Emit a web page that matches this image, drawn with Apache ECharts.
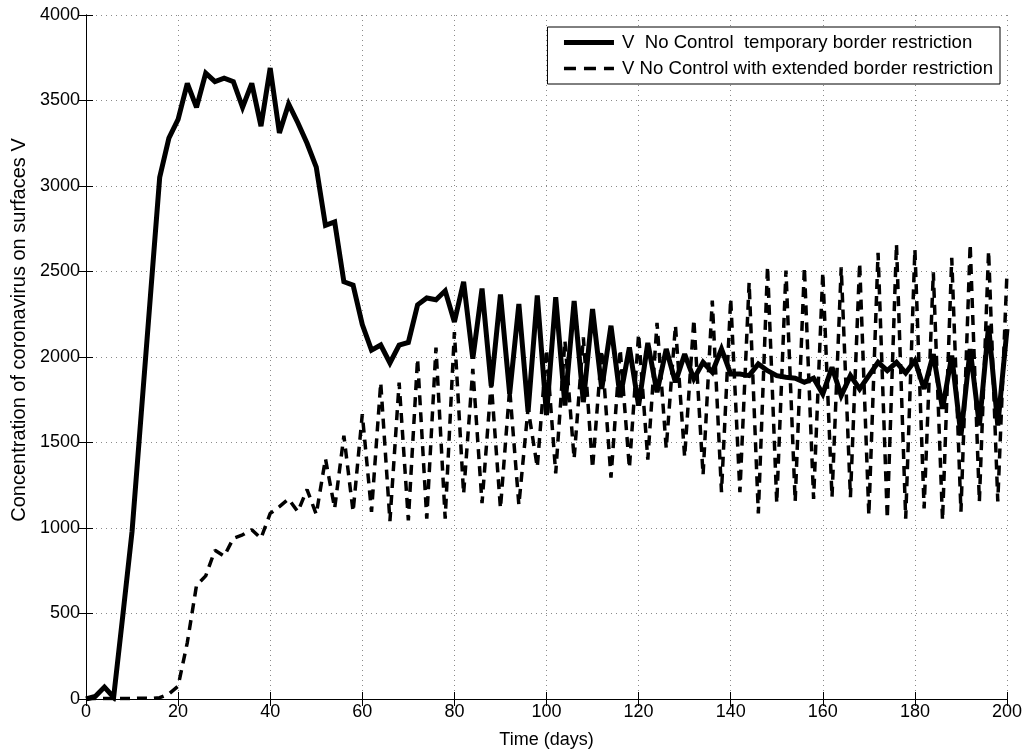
<!DOCTYPE html>
<html>
<head>
<meta charset="utf-8">
<script src="https://cdn.jsdelivr.net/npm/echarts@6/dist/echarts.min.js"></script>
<style>
html,body{margin:0;padding:0;background:#fff;}
#chart{width:1033px;height:754px;}
</style>
</head>
<body>
<div id="chart"></div>
<script>
const days = [0,2,4,6,8,10,12,14,16,18,20,22,24,26,28,30,32,34,36,38,40,42,44,46,48,50,52,54,56,58,60,62,64,66,68,70,72,74,76,78,80,82,84,86,88,90,92,94,96,98,100,102,104,106,108,110,112,114,116,118,120,122,124,126,128,130,132,134,136,138,140,142,144,146,148,150,152,154,156,158,160,162,164,166,168,170,172,174,176,178,180,182,184,186,188,190,192,194,196,198,200];

const tempBorder = [0,15,70,10,490,980,1670,2360,3050,3280,3390,3600,3460,3660,3610,3630,3610,3460,3600,3350,3690,3310,3480,3370,3250,3110,2770,2790,2440,2420,2190,2040,2070,1965,2070,2085,2305,2345,2335,2387,2205,2440,1990,2400,1830,2365,1785,2310,1680,2360,1660,2350,1716,2328,1736,2280,1813,2183,1765,2056,1716,2082,1794,2047,1852,2017,1872,1969,1911,2047,1901,1901,1891,1959,1920,1891,1882,1876,1852,1876,1784,1940,1774,1891,1813,1891,1969,1920,1969,1907,1979,1813,2017,1697,2008,1541,2047,1600,2183,1600,2163];

const extBorder = [0,3,3,3,3,3,5,3,8,30,75,330,665,720,870,835,940,960,990,940,1085,1125,1170,1095,1225,1080,1405,1115,1540,1095,1665,1095,1850,1040,1850,1045,1990,1055,2055,1055,2145,1200,1930,1145,1850,1115,1815,1135,1700,1355,2045,1320,2095,1405,2115,1350,2040,1295,2045,1350,2135,1400,2200,1465,2185,1415,2220,1310,2330,1210,2340,1210,2435,1085,2530,1145,2505,1155,2525,1170,2495,1180,2525,1180,2550,1075,2610,1055,2660,1055,2630,1115,2495,1045,2580,1095,2660,1155,2620,1155,2495];

const seriesNames = ['V  No Control  temporary border restriction', 'V No Control with extended border restriction'];
const xTitle = 'Time (days)';
const yTitle = 'Concentration of coronavirus on surfaces V';

const FONT = 'Liberation Sans, Arial, Helvetica, sans-serif';
const chart = echarts.init(document.getElementById('chart'), null, {renderer: 'canvas'});

function pairs(vals) { return days.map((d, i) => [d, vals[i]]); }

const tickStyle = {show: true, inside: true, length: 7, lineStyle: {color: '#000', width: 1}};
const splitStyle = {show: true, lineStyle: {color: '#8a8a8a', width: 1, type: [1, 4]}};
const plain = v => String(v);

chart.setOption({
  animation: false,
  backgroundColor: '#fff',
  textStyle: {fontFamily: FONT},
  grid: {left: 86, right: 26, top: 15, bottom: 53, show: false},
  legend: {
    orient: 'vertical',
    right: 33, top: 27,
    backgroundColor: '#fff',
    borderColor: '#000', borderWidth: 1,
    padding: [6, 7, 6, 14],
    itemGap: 7,
    itemWidth: 50, itemHeight: 18,
    itemStyle: {opacity: 0},
    textStyle: {fontFamily: FONT, fontSize: 18.6, color: '#000', padding: [0, 0, 0, 3]},
    data: [
      {name: seriesNames[0], lineStyle: {width: 5, color: '#000'}},
      {name: seriesNames[1], lineStyle: {width: 3.5, color: '#000', type: [12, 8]}}
    ]
  },
  xAxis: [{
    type: 'value', min: 0, max: 200, interval: 20,
    name: xTitle, nameLocation: 'middle', nameGap: 32,
    nameTextStyle: {fontFamily: FONT, fontSize: 18, color: '#000'},
    axisLine: {show: true, lineStyle: {color: '#000', width: 1}},
    axisTick: tickStyle,
    axisLabel: {fontFamily: FONT, fontSize: 18, color: '#000', margin: 4, formatter: plain},
    splitLine: splitStyle
  }, {
    type: 'value', min: 0, max: 200, interval: 20, position: 'top',
    axisLine: {show: true, lineStyle: {color: '#000', width: 1}},
    axisTick: tickStyle, axisLabel: {show: false}, splitLine: {show: false}
  }],
  yAxis: [{
    type: 'value', min: 0, max: 4000, interval: 500,
    name: yTitle, nameLocation: 'middle', nameGap: 57, nameRotate: 90,
    nameTextStyle: {fontFamily: FONT, fontSize: 20, color: '#000', padding: [0, 0, 0, 54]},
    axisLine: {show: true, lineStyle: {color: '#000', width: 1}},
    axisTick: tickStyle,
    axisLabel: {fontFamily: FONT, fontSize: 18, color: '#000', margin: 6, formatter: plain},
    splitLine: splitStyle
  }, {
    type: 'value', min: 0, max: 4000, interval: 500, position: 'right',
    axisLine: {show: true, lineStyle: {color: '#000', width: 1}},
    axisTick: tickStyle, axisLabel: {show: false}, splitLine: {show: false}
  }],
  series: [{
    name: seriesNames[0], type: 'line', data: pairs(tempBorder),
    symbol: 'none', showSymbol: false, clip: true,
    lineStyle: {color: '#000', width: 5, join: 'miter', miterLimit: 3},
    itemStyle: {color: '#000'}
  }, {
    name: seriesNames[1], type: 'line', data: pairs(extBorder),
    symbol: 'none', showSymbol: false, clip: true,
    lineStyle: {color: '#000', width: 3.5, type: [10, 7]},
    itemStyle: {color: '#000'}
  }]
});
</script>
</body>
</html>
